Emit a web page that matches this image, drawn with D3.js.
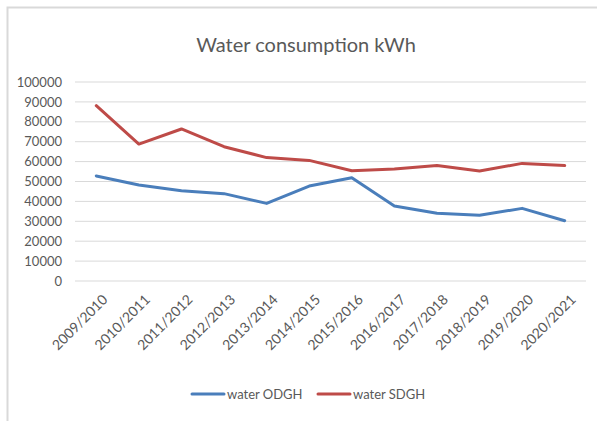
<!DOCTYPE html>
<html>
<head>
<meta charset="utf-8">
<script src="https://cdn.jsdelivr.net/npm/d3@7"></script>
<style>
  body { margin: 0; background: #fff; }
  text { font-family: Lato, "Open Sans", sans-serif; fill: #595959; }
</style>
</head>
<body>
<div id="chart"></div>
<script>
// chart data
let years = ["2009/2010", "2010/2011", "2011/2012", "2012/2013", "2013/2014", "2014/2015",
  "2015/2016", "2016/2017", "2017/2018", "2018/2019", "2019/2020", "2020/2021"];
let waterODGH = [52800, 48200, 45400, 43900, 39000, 47700, 51900, 37700, 34000, 33000, 36500, 30300];
let waterSDGH = [88100, 68800, 76400, 67500, 62000, 60600, 55400, 56300, 58000, 55300, 59100, 58000];
let yTicks = [0, 10000, 20000, 30000, 40000, 50000, 60000, 70000, 80000, 90000, 100000];

let svgWidth = 597;
let svgHeight = 421;

let margin = { top: 82, right: 11, bottom: 140, left: 75 };
let width = svgWidth - margin.left - margin.right;
let height = svgHeight - margin.top - margin.bottom;

let svg = d3.select("#chart")
  .append("svg")
  .attr("width", svgWidth)
  .attr("height", svgHeight);

// outer frame (only top and left edges show)
svg.append("path")
  .attr("d", "M7.5," + svgHeight + "V7.5H" + svgWidth)
  .attr("fill", "none")
  .attr("stroke", "#d9d9d9")
  .attr("stroke-width", 2);

// title
svg.append("text")
  .attr("x", 306)
  .attr("y", 52)
  .attr("text-anchor", "middle")
  .attr("font-size", "20px")
  .text("Water consumption kWh");

let chartGroup = svg.append("g")
  .attr("transform", `translate(${margin.left}, ${margin.top})`);

let xScale = d3.scalePoint()
  .domain(years)
  .range([0, width])
  .padding(0.5);

let yScale = d3.scaleLinear()
  .domain([0, 100000])
  .range([height, 0]);

// gridlines
chartGroup.selectAll(".grid")
  .data(yTicks)
  .enter()
  .append("line")
  .attr("x1", 0)
  .attr("x2", width)
  .attr("y1", d => yScale(d))
  .attr("y2", d => yScale(d))
  .attr("stroke", "#d9d9d9")
  .attr("stroke-width", 1);

// y axis
let leftAxis = d3.axisLeft(yScale)
  .tickValues(yTicks)
  .tickFormat(d3.format("d"))
  .tickSize(0)
  .tickPadding(13);

let yAxis = chartGroup.append("g").call(leftAxis);
yAxis.select(".domain").remove();
yAxis.selectAll("text")
  .attr("font-size", "13px")
  .attr("fill", "#595959");

// x axis
let bottomAxis = d3.axisBottom(xScale).tickSize(0);
let xAxis = chartGroup.append("g")
  .attr("transform", `translate(0, ${height})`)
  .call(bottomAxis);
xAxis.select(".domain").remove();
xAxis.selectAll("text")
  .attr("font-size", "14px")
  .attr("fill", "#595959")
  .attr("text-anchor", "end")
  .attr("dy", "0.35em")
  .attr("transform", "translate(6, 14) rotate(-45)");

// lines
let line = d3.line()
  .x((d, i) => xScale(years[i]))
  .y(d => yScale(d));

let series = [
  { name: "water ODGH", values: waterODGH, color: "#4a7ebb" },
  { name: "water SDGH", values: waterSDGH, color: "#be4b48" }
];

chartGroup.selectAll(".series")
  .data(series)
  .enter()
  .append("path")
  .attr("d", d => line(d.values))
  .attr("fill", "none")
  .attr("stroke", d => d.color)
  .attr("stroke-width", 3)
  .attr("stroke-linejoin", "round")
  .attr("stroke-linecap", "round");

// legend
let legendX = [192, 318];
let legend = svg.selectAll(".legend")
  .data(series)
  .enter()
  .append("g")
  .attr("transform", (d, i) => `translate(${legendX[i]}, 394)`);

legend.append("line")
  .attr("x1", 0)
  .attr("x2", 32)
  .attr("stroke", d => d.color)
  .attr("stroke-width", 3)
  .attr("stroke-linecap", "round");

legend.append("text")
  .attr("x", 35)
  .attr("dy", "0.35em")
  .attr("font-size", "13px")
  .text(d => d.name);
</script>
</body>
</html>
